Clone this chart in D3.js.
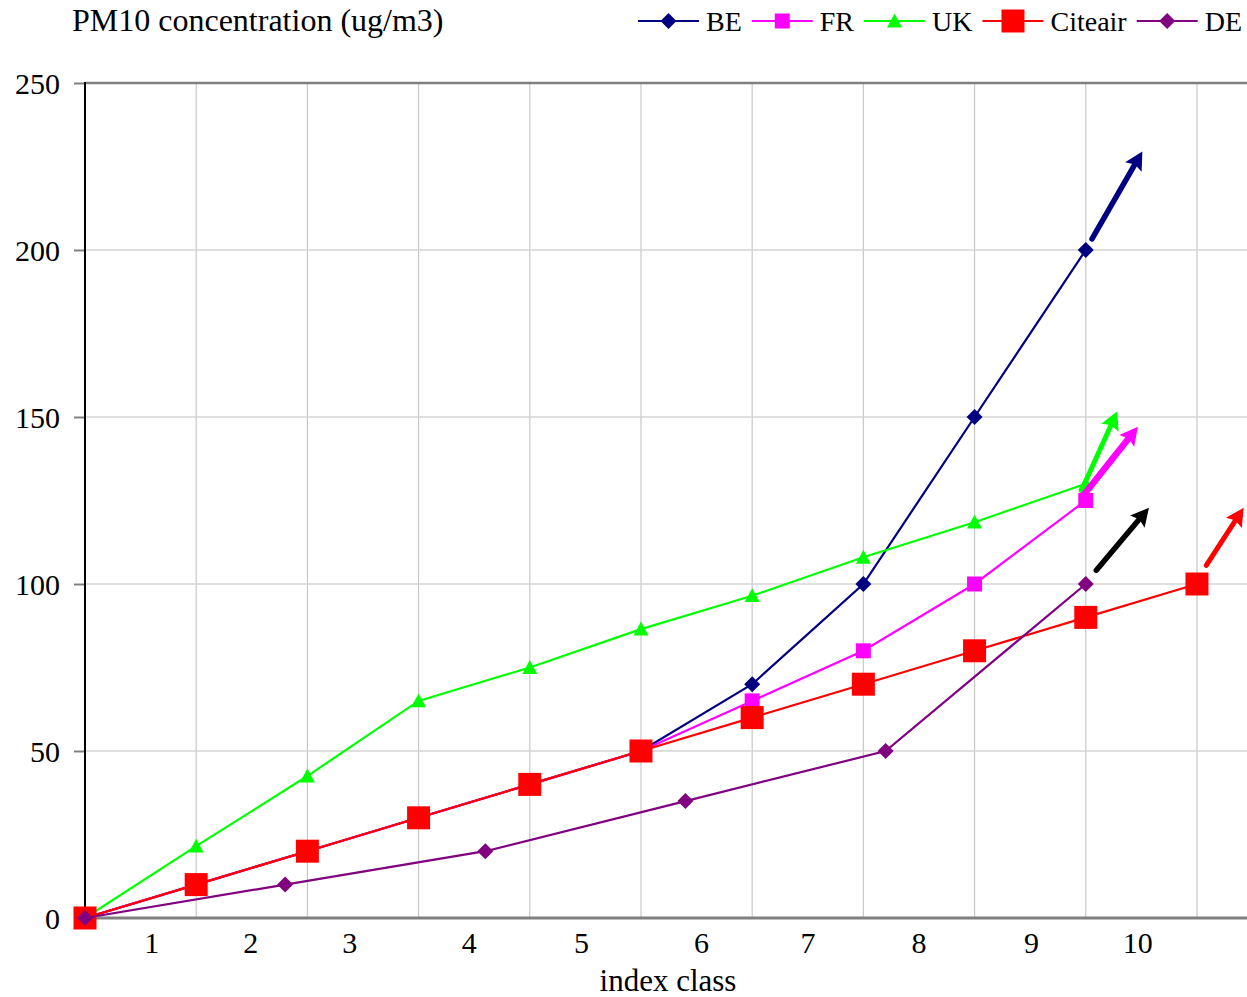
<!DOCTYPE html>
<html>
<head>
<meta charset="utf-8">
<script src="https://cdn.jsdelivr.net/npm/d3@7"></script>
<style>
html,body{margin:0;padding:0;background:#fff;}
svg{display:block;}
text{font-family:"Liberation Serif","Times New Roman",serif;fill:#000;}
</style>
</head>
<body>
<svg id="chart" width="1247" height="997"></svg>
<script>
// ---- data ----
const seriesNames = ["BE", "FR", "UK", "Citeair", "DE"];
const beX = [0,1,2,3,4,5,6,7,8,9];
const beY = [0,10,20,30,40,50,70,100,150,200];
const frX = [0,1,2,3,4,5,6,7,8,9];
const frY = [0,10,20,30,40,50,65,80,100,125];
const ukX = [0,1,2,3,4,5,6,7,8,9];
const ukY = [0,21.5,42.5,65,75,86.5,96.5,108,118.5,130];
const citeairX = [0,1,2,3,4,5,6,7,8,9,10];
const citeairY = [0,10,20,30,40,50,60,70,80,90,100];
const deX = [0,1.8,3.6,5.4,7.2,9];
const deY = [0,10,20,35,50,100];

const yTicks = [0,50,100,150,200,250];
const xGrid = [1,2,3,4,5,6,7,8,9,10];
const xLabels = ["1","2","3","4","5","6","7","8","9","10"];
const xLabelPos = [0.60,1.49,2.38,3.455,4.466,5.545,6.503,7.50,8.511,9.467];

// annotation arrows (data units)
const arrowNames = ["BE","UK","FR","DE","Citeair"];
const arrowX1 = [9.056, 8.961, 8.990, 9.095, 10.084];
const arrowY1 = [203.3, 128.0, 127.0, 104.1, 105.6];
const arrowX2 = [9.509, 9.284, 9.469, 9.568, 10.420];
const arrowY2 = [229.5, 151.7, 147.1, 122.8, 122.8];

// ---- styles ----
const colors = {BE:"#000080", FR:"#FF00FF", UK:"#00FF00", Citeair:"#FF0000", DE:"#800080"};
const arrowColors = {BE:"#000080", UK:"#00FF00", FR:"#FF00FF", DE:"#000000", Citeair:"#FF0000"};
const arrowWidths = {BE:5.5, UK:5, FR:6.5, DE:5.5, Citeair:5};
const markerType = {BE:"diamond", FR:"square", UK:"triangle", Citeair:"square", DE:"diamond"};
const markerSize = {BE:8, FR:7.5, UK:7.5, Citeair:11.5, DE:8};

const series = [
  {name:"BE", xs:beX, ys:beY},
  {name:"FR", xs:frX, ys:frY},
  {name:"UK", xs:ukX, ys:ukY},
  {name:"Citeair", xs:citeairX, ys:citeairY},
  {name:"DE", xs:deX, ys:deY}
];

const L = 85, R = 1247, T = 83, B = 918;
const x = d3.scaleLinear().domain([0, 10.45]).range([L, R]);
const y = d3.scaleLinear().domain([0, 250]).range([B, T]);

const svg = d3.select("#chart");

function markerPath(type, r){
  if(type==="diamond") return `M0,${-r}L${r},0L0,${r}L${-r},0Z`;
  if(type==="square") return `M${-r},${-r}H${r}V${r}H${-r}Z`;
  if(type==="triangle") return `M0,${-r}L${r},${r*0.85}L${-r},${r*0.85}Z`;
}

// grid
const grid = svg.append("g");
grid.selectAll("line.vg").data(xGrid).join("line")
  .attr("x1", d=>x(d)).attr("x2", d=>x(d)).attr("y1", T).attr("y2", B)
  .attr("stroke", "#c8c8c8").attr("stroke-width", 1.2);
grid.selectAll("line.hg").data(yTicks.filter(d=>d>0 && d<250)).join("line")
  .attr("x1", L).attr("x2", R).attr("y1", d=>y(d)).attr("y2", d=>y(d))
  .attr("stroke", "#d4d4d4").attr("stroke-width", 1.5);
// top border
svg.append("line").attr("x1", L).attr("x2", R).attr("y1", y(250)).attr("y2", y(250))
  .attr("stroke", "#808080").attr("stroke-width", 2.5);

// y axis
const yAxis = d3.axisLeft(y).tickValues(yTicks).tickSize(11).tickPadding(14).tickFormat(d3.format("d"));
const gy = svg.append("g").attr("transform", `translate(${L},0)`).call(yAxis);
gy.select(".domain").remove();
gy.selectAll(".tick line").attr("stroke", "#808080").attr("stroke-width", 2);
gy.selectAll(".tick text").attr("font-size", 30).attr("font-family", "Liberation Serif").attr("dy", "0.34em");

// bottom axis line
svg.append("line").attr("x1", L).attr("x2", R).attr("y1", y(0)).attr("y2", y(0))
  .attr("stroke", "#808080").attr("stroke-width", 3);
// left axis line
svg.append("line").attr("x1", L).attr("x2", L).attr("y1", T-1).attr("y2", B+1)
  .attr("stroke", "#000").attr("stroke-width", 2);

// x labels
svg.append("g").selectAll("text").data(xLabels).join("text")
  .attr("x", (d,i)=>x(xLabelPos[i])).attr("y", 953)
  .attr("text-anchor", "middle").attr("font-size", 30).text(d=>d);

// series lines
const lineGen = d3.line().x(d=>x(d[0])).y(d=>y(d[1]));
series.forEach(s=>{
  const pts = s.xs.map((v,i)=>[v, s.ys[i]]);
  const g = svg.append("g");
  g.append("path").attr("d", lineGen(pts)).attr("fill","none")
    .attr("stroke", colors[s.name]).attr("stroke-width", 2.2);
  g.selectAll("path.m").data(pts).join("path").attr("class","m")
    .attr("transform", d=>`translate(${x(d[0])},${y(d[1])})`)
    .attr("d", markerPath(markerType[s.name], markerSize[s.name]))
    .attr("fill", colors[s.name]);
});

// arrows
arrowNames.forEach((n,i)=>{
  const x1 = x(arrowX1[i]), y1 = y(arrowY1[i]), x2 = x(arrowX2[i]), y2 = y(arrowY2[i]);
  const dx = x2-x1, dy = y2-y1, len = Math.hypot(dx,dy);
  const ux = dx/len, uy = dy/len, px = -uy, py = ux;
  const hl = 18, hw = 9.5;
  const bx = x2 - ux*hl, by = y2 - uy*hl;
  svg.append("line").attr("x1", x1).attr("y1", y1).attr("x2", bx+ux*3).attr("y2", by+uy*3)
    .attr("stroke", arrowColors[n]).attr("stroke-width", arrowWidths[n]).attr("stroke-linecap","round");
  svg.append("path")
    .attr("d", `M${x2},${y2}L${bx+px*hw},${by+py*hw}L${bx+ux*3},${by+uy*3}L${bx-px*hw},${by-py*hw}Z`)
    .attr("fill", arrowColors[n]);
});

// titles
svg.append("text").attr("x", 72).attr("y", 31).attr("font-size", 32).text("PM10 concentration (ug/m3)");
svg.append("text").attr("x", 668).attr("y", 991).attr("text-anchor","middle").attr("font-size", 31).text("index class");

// legend
const leg = svg.append("g");
let lx = 638; const ly = 21;
seriesNames.forEach(n=>{
  leg.append("line").attr("x1", lx).attr("x2", lx+61).attr("y1", ly).attr("y2", ly)
    .attr("stroke", colors[n]).attr("stroke-width", 2.2);
  leg.append("path").attr("transform", `translate(${lx+30.5},${ly})`)
    .attr("d", markerPath(markerType[n], markerSize[n])).attr("fill", colors[n]);
  const t = leg.append("text").attr("x", lx+68).attr("y", ly+10).attr("font-size", 28).text(n);
  lx += 68 + t.node().getComputedTextLength() + 10;
});
</script>
</body>
</html>
